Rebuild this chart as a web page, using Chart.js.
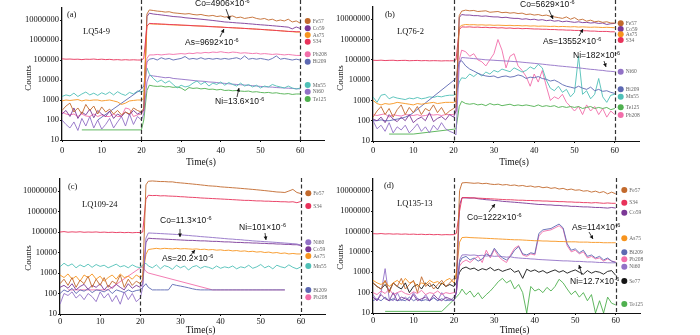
<!DOCTYPE html>
<html lang="en">
<head>
<meta charset="UTF-8">
<title>LA-ICP-MS time-resolved signals</title>
<script src="https://cdn.jsdelivr.net/npm/chart.js"></script>
<style>
    body { margin: 0; background: #fff; overflow: hidden; }
    #wrap { position: relative; width: 700px; height: 335px; }
    #wrap canvas { position: absolute; left: 0; top: 0; }
</style>
</head>
<body>
<div id="wrap">
    <canvas id="chartA" width="700" height="335"></canvas>
    <canvas id="chartB" width="700" height="335"></canvas>
    <canvas id="chartC" width="700" height="335"></canvas>
    <canvas id="chartD" width="700" height="335"></canvas>
</div>
<script>
// time axis (s): 1 s steps, two extra points on the ablation onset
const times = [0,1,2,3,4,5,6,7,8,9,10,11,12,13,14,15,16,17,18,19,20,20.6,21.4,
    22,23,24,25,26,27,28,29,30,31,32,33,34,35,36,37,38,39,40,41,42,43,44,45,46,47,48,49,50,51,52,53,54,55,56,57,58,59,60];
const yTicks = [10, 100, 1000, 10000, 100000, 1000000, 10000000];
const xTicks = [0, 10, 20, 30, 40, 50, 60];

// ---- (a) LQ54-9 ----
const aFe57 = [300,500,700,250,400,200,600,300,500,200,450,250,350,200,300,180,250,200,400,300,250,
    400,2.0e7,
    3.2e7,3.0e7,2.8e7,2.7e7,2.5e7,2.6e7,2.3e7,2.2e7,2.1e7,2.0e7,
    2.1e7,1.9e7,1.8e7,1.9e7,1.7e7,1.6e7,1.7e7,1.5e7,1.6e7,1.4e7,
    1.5e7,1.6e7,1.3e7,1.4e7,1.2e7,1.3e7,1.4e7,1.2e7,1.1e7,1.2e7,
    1.0e7,1.1e7,9e6,1.0e7,9e6,1.1e7,8e6,9e6,7e6];
const aCo59 = [200,300,150,400,120,250,180,350,130,300,200,150,280,120,200,150,250,180,300,200,250,
    300,1.5e7,
    2.2e7,2.0e7,1.9e7,1.8e7,1.7e7,1.6e7,1.5e7,1.45e7,1.4e7,1.3e7,
    1.25e7,1.2e7,1.15e7,1.1e7,1.05e7,1.0e7,9.5e6,9e6,8.5e6,8e6,
    7.8e6,7.5e6,7.2e6,7e6,6.8e6,6.5e6,6.3e6,6e6,5.8e6,5.6e6,
    5.4e6,5.2e6,5e6,4.8e6,4.6e6,4.4e6,3.6e6,4.5e6,3.8e6];
const aAs75 = [900,1000,950,1000,1050,900,1000,950,1000,1000,900,950,1000,900,800,600,700,900,950,1000,1000,
    1200,5e6,
    6.5e6,6.3e6,6.2e6,6.1e6,6e6,5.8e6,5.7e6,5.6e6,5.5e6,5.4e6,
    5.3e6,5.2e6,5.1e6,5e6,4.9e6,4.8e6,4.7e6,4.6e6,4.5e6,4.3e6,
    4.2e6,4.1e6,4e6,3.9e6,3.8e6,3.7e6,3.6e6,3.5e6,3.4e6,3.3e6,
    3.2e6,3.1e6,3.0e6,2.9e6,2.8e6,2.7e6,2.6e6,2.5e6,2.5e6];
const aS34 = [1.15e5,1.1e5,1.12e5,1.08e5,1.1e5,1.05e5,1.1e5,1.08e5,1.12e5,1.06e5,1.1e5,1.05e5,1.08e5,1.02e5,1.05e5,1.0e5,1.04e5,1.0e5,1.03e5,1.0e5,1.0e5,
    1.2e5,5e6,
    6.8e6,6.6e6,6.5e6,6.3e6,6.2e6,6e6,5.9e6,5.8e6,5.6e6,5.5e6,
    5.4e6,5.2e6,5.1e6,5e6,4.9e6,4.7e6,4.6e6,4.5e6,4.4e6,4.3e6,
    4.2e6,4.1e6,4e6,3.9e6,3.8e6,3.7e6,3.6e6,3.5e6,3.4e6,3.3e6,
    3.2e6,3.1e6,3e6,2.9e6,2.8e6,2.7e6,2.7e6,2.6e6,2.6e6];
const aPb208 = [250,200,180,200,150,200,160,150,200,150,180,150,150,200,150,150,400,350,150,180,200,
    300,1.2e5,
    1.8e5,1.8e5,1.9e5,1.8e5,1.9e5,2e5,1.9e5,2e5,2.1e5,2e5,
    2.2e5,2.1e5,2.3e5,2.2e5,2.4e5,2.3e5,2.5e5,2.4e5,2.6e5,2.4e5,
    2.3e5,2.5e5,2.4e5,2.2e5,2.3e5,2.2e5,2.1e5,2.2e5,2e5,2.1e5,
    2e5,1.9e5,2e5,1.9e5,1.8e5,1.9e5,1.8e5,1.7e5,1.7e5];
const aBi209 = [null,null,null,null,null,null,null,null,null,100,null,null,null,null,null,null,null,null,null,null,3500,
    5000,8e4,
    1.1e5,1.2e5,1.0e5,1.3e5,1.1e5,1.2e5,1.0e5,1.1e5,1.2e5,1.5e5,
    1.1e5,1.2e5,1.1e5,1.3e5,1.1e5,1.2e5,1.1e5,1.2e5,1.1e5,1.2e5,
    1.1e5,1.2e5,1.3e5,1.1e5,1.6e5,1.1e5,1.2e5,1.1e5,1.2e5,1.1e5,
    1.0e5,1.2e5,1.6e5,1.1e5,1.2e5,1.1e5,1.0e5,1.1e5,1.0e5];
const aMn55 = [1500,1800,1600,2200,1500,2000,2500,1800,2200,1700,2300,1900,2500,1800,2600,2000,1700,2400,2000,2800,2500,
    3000,4e4,
    2e4,1.2e4,8000,1e4,7000,9000,6000,4000,5500,4500,
    5000,7000,9000,6000,8000,5000,7000,6000,8000,5500,
    7500,6000,5000,7000,5000,6000,4500,5500,4000,5000,
    4500,6000,5000,4500,4000,5000,4000,3500,4000];
const aNi60 = [100,60,40,80,30,120,50,150,40,100,35,60,120,40,80,150,50,200,60,150,100,
    200,8000,
    1.7e4,1.6e4,1.5e4,1.4e4,1.3e4,1.35e4,1.2e4,1.15e4,1.1e4,1.05e4,
    1.0e4,9500,9000,8800,8500,8000,7800,7500,7000,6800,
    6500,6200,6000,5800,5600,5400,5200,5000,4800,4600,
    4500,4400,4200,4100,4000,3900,3800,3700,3600];
const aTe125 = [null,null,null,null,null,32,null,null,null,null,null,null,null,null,null,null,null,null,null,null,32,
    100,3000,
    5500,5000,4800,5000,4500,4700,4300,4500,4000,3000,
    4200,3800,4000,3600,3800,3400,3500,3200,3400,3000,
    3100,2900,3000,2800,2700,2800,2500,2600,2400,2300,
    2400,2200,2300,2100,2000,2100,1900,2000,2000];

// ---- (b) LQ76-2 ----
const bFe57 = [150,300,500,200,400,150,350,600,200,450,250,500,200,400,300,600,250,450,200,300,400,
    500,1.5e7,
    2.5e7,2.8e7,2.6e7,2.7e7,2.4e7,2.5e7,2.6e7,2.2e7,2.3e7,2.4e7,
    2.1e7,2.2e7,2.0e7,2.1e7,1.9e7,2.0e7,1.7e7,1.8e7,1.6e7,1.7e7,
    1.5e7,1.6e7,1.4e7,1.3e7,1.2e7,1.1e7,1.3e7,1.0e7,1.2e7,9e6,
    1.0e7,8e6,9e6,7.5e6,8e6,7e6,7.5e6,6.5e6,6.5e6];
const bCo59 = [120,100,150,80,200,120,90,150,100,200,80,120,150,100,250,90,130,160,110,200,150,
    300,1.2e7,
    1.7e7,1.6e7,1.6e7,1.5e7,1.5e7,1.4e7,1.45e7,1.35e7,1.3e7,1.3e7,
    1.2e7,1.25e7,1.15e7,1.1e7,1.1e7,1.0e7,1.05e7,9.5e6,1.0e7,9e6,
    9.5e6,8.5e6,9e6,8e6,8.5e6,7.5e6,8e6,7.5e6,7e6,7.5e6,
    6.8e6,7e6,6.5e6,6.8e6,6.2e6,6.5e6,5.5e6,6e6,6.2e6];
const bAs75 = [1000,700,600,700,650,700,800,750,700,650,600,700,650,700,750,800,700,750,800,800,800,
    900,4e6,
    5e6,5.5e6,5.3e6,5.4e6,5.2e6,5.3e6,5.1e6,5.2e6,5e6,5.1e6,
    5e6,4.9e6,5e6,4.8e6,4.9e6,4.7e6,4.8e6,4.6e6,4.7e6,4.5e6,
    4.6e6,4.5e6,4.4e6,4.5e6,4.3e6,4.4e6,4.3e6,4.2e6,4.3e6,4.1e6,
    4.2e6,4.1e6,4e6,4.1e6,4e6,3.9e6,4e6,3.9e6,3.8e6];
const bS34 = [9.5e4,9.3e4,9.6e4,9.2e4,9.4e4,9.5e4,9.1e4,9.3e4,9.4e4,9.0e4,9.2e4,9.3e4,9.0e4,9.2e4,8.9e4,9.1e4,9.0e4,8.8e4,9.0e4,8.9e4,9.0e4,
    1e5,3e6,
    4.2e6,4.1e6,4.2e6,4.0e6,4.1e6,3.9e6,4.0e6,3.8e6,3.9e6,3.7e6,
    3.8e6,3.6e6,3.7e6,3.5e6,3.6e6,3.4e6,3.5e6,3.4e6,3.3e6,3.3e6,
    3.2e6,3.2e6,3.1e6,3.1e6,3.0e6,3.0e6,2.9e6,2.9e6,2.8e6,2.8e6,
    2.7e6,2.7e6,2.6e6,2.6e6,2.5e6,2.5e6,2.5e6,2.4e6,2.4e6];
const bNi60 = [100,40,60,30,80,25,50,35,60,25,40,70,30,50,25,60,35,80,40,30,25,
    20,6e4,
    1.3e5,1.25e5,1.2e5,1.15e5,1.1e5,1.05e5,1.0e5,9.8e4,9.5e4,9.2e4,
    9e4,8.7e4,8.5e4,8.2e4,8e4,7.6e4,7.3e4,7e4,6.7e4,6.4e4,
    6.1e4,5.8e4,5.5e4,5.3e4,5e4,4.8e4,4.6e4,4.4e4,4.2e4,4e4,
    3.8e4,3.6e4,3.4e4,3.3e4,3.1e4,3e4,2.8e4,2.7e4,2.6e4];
const bBi209 = [100,100,110,100,100,110,120,130,150,180,250,null,null,null,null,null,null,null,null,null,null,
    1.2e4,8e4,
    9e4,5e4,3.5e4,2.8e4,2.2e4,1.8e4,1.6e4,1.5e4,1.6e4,1.3e4,
    1.5e4,1.6e4,1.4e4,1.5e4,1.8e4,1.6e4,1.2e4,1.4e4,1.3e4,1.5e4,
    1.2e4,1.1e4,9000,1e4,8000,6000,5000,4500,4000,5000,
    4000,3500,4500,3000,3500,2800,3000,2500,2200];
const bMn55 = [1500,800,1800,2000,1200,1500,1300,1200,1100,1300,1200,1400,1200,1300,1500,1400,1600,1500,1700,1800,1800,
    2000,8000,
    1.3e4,1.2e4,2e4,1.5e4,2.2e4,1.6e4,2.5e4,2e4,3e4,2.5e4,
    3.5e4,3e4,2.6e4,4e4,3.2e4,2.5e4,3e4,4.5e4,3.5e4,6e4,
    4e4,1e4,4000,3000,5000,2500,3500,1500,2500,1.5e5,
    2000,3000,1200,2000,1.2e4,1500,800,1800,2000];
const bTe125 = [null,null,null,null,22,null,null,null,null,null,22,null,null,null,null,null,null,null,null,null,38,
    40,500,
    900,700,650,700,600,650,550,700,600,650,
    550,600,650,550,600,550,600,550,500,600,
    500,550,500,550,450,500,450,500,450,500,
    400,450,500,400,450,400,450,350,400];
const bPb208 = [200,180,200,220,150,200,180,170,200,190,180,200,170,180,200,190,200,180,200,200,200,
    300,1e5,
    3e5,2.5e5,1.5e5,2e5,1e5,8e4,5e4,1e5,2e5,1e6,
    3e5,4e4,1.5e5,2e5,5e4,3e4,1.5e4,5000,2e4,8000,
    3e4,5000,1000,1500,1200,2000,800,500,300,500,
    200,600,300,500,200,400,150,300,200];

// ---- (c) LQ109-24 ----
const cFe57 = [300,500,250,600,200,450,300,700,200,500,250,600,200,400,300,800,200,500,250,400,300,
    500,2e7,
    3e7,3.1e7,3e7,2.9e7,2.9e7,2.8e7,2.8e7,2.6e7,2.5e7,2.4e7,
    2.3e7,2.2e7,2.1e7,2e7,1.9e7,1.8e7,1.75e7,1.7e7,1.6e7,1.55e7,
    1.5e7,1.45e7,1.4e7,1.35e7,1.3e7,1.25e7,1.2e7,1.15e7,1.1e7,1.05e7,
    1.0e7,9.5e6,9e6,8.8e6,8.5e6,1.0e7,1.2e7,8.5e6,7.5e6];
const cS34 = [1.0e5,1.05e5,9.8e4,1.02e5,9.9e4,1.03e5,9.7e4,1.0e5,9.8e4,1.01e5,9.6e4,9.9e4,9.5e4,9.8e4,9.4e4,9.7e4,9.3e4,9.6e4,9.2e4,9.5e4,9.4e4,
    1e5,4e6,
    6.2e6,6e6,6.1e6,5.8e6,5.9e6,5.7e6,5.6e6,5.5e6,5.3e6,5.2e6,
    5.0e6,4.9e6,4.8e6,4.6e6,4.5e6,4.4e6,4.3e6,4.2e6,4.1e6,4.0e6,
    3.9e6,3.8e6,3.7e6,3.6e6,3.5e6,3.5e6,3.4e6,3.3e6,3.3e6,3.2e6,
    3.2e6,3.1e6,3.1e6,3.0e6,3.0e6,2.9e6,3.0e6,2.7e6,3.1e6];
const cNi60 = [30,100,80,120,60,90,50,100,70,40,120,60,100,40,80,30,120,50,100,40,60,
    200,5e4,
    9e4,8.8e4,8.6e4,8.4e4,8.2e4,8e4,7.8e4,7.6e4,7.3e4,7e4,
    6.8e4,6.5e4,6.3e4,6e4,5.8e4,5.6e4,5.4e4,5.2e4,5e4,4.8e4,
    4.6e4,4.5e4,4.3e4,4.2e4,4e4,3.9e4,3.7e4,3.6e4,3.5e4,3.4e4,
    3.3e4,3.2e4,3.1e4,3e4,2.9e4,2.8e4,2.7e4,2.6e4,2.3e4];
const cCo59 = [200,250,180,300,150,220,280,160,250,200,300,150,250,180,280,200,150,300,180,250,200,
    300,3e4,
    5e4,4.8e4,4.7e4,4.6e4,4.5e4,4.4e4,4.3e4,4.2e4,4.1e4,4e4,
    3.9e4,3.9e4,3.8e4,3.7e4,3.7e4,3.6e4,3.5e4,3.5e4,3.4e4,3.3e4,
    3.3e4,3.2e4,3.1e4,3.1e4,3e4,3e4,2.9e4,2.9e4,2.8e4,2.8e4,
    2.7e4,2.7e4,2.6e4,2.6e4,2.5e4,2.5e4,2.4e4,2.4e4,2.2e4];
const cAs75 = [800,600,900,500,700,400,800,600,900,500,700,400,600,800,500,900,600,700,500,800,600,
    800,8000,
    1.4e4,1.5e4,1.6e4,1.5e4,1.6e4,1.55e4,1.5e4,1.6e4,1.5e4,1.55e4,
    1.5e4,1.45e4,1.5e4,1.4e4,1.45e4,1.35e4,1.4e4,1.3e4,1.35e4,1.25e4,
    1.3e4,1.2e4,1.25e4,1.15e4,1.2e4,1.1e4,1.15e4,1.05e4,1.1e4,1e4,
    1.05e4,9500,1e4,9000,9500,8500,9000,8500,8500];
const cMn55 = [2000,3000,2200,2800,1800,2500,2000,2700,1900,2600,2100,2400,1800,2200,2700,2000,2300,1800,2500,2000,1800,
    2500,3000,
    2200,1800,2500,1600,2300,2000,1500,2400,1800,2200,
    1400,2000,2300,1700,2100,1900,1600,2200,1700,2000,
    1800,2200,1600,2000,1800,2400,1700,2000,2600,1800,
    2200,1600,2400,2000,1800,2500,1900,1600,2000];
const cBi209 = [100,150,120,180,100,150,130,170,110,150,140,120,160,100,150,130,110,150,120,140,150,
    200,300,
    200,150,150,150,150,150,280,250,230,210,
    190,170,155,150,150,150,150,150,150,150,
    150,150,150,150,150,150,150,150,150,150,
    150,150,150,150,150,null,null,null,null];
const cPb208 = [null,null,150,null,null,null,null,null,null,null,null,null,150,null,null,null,null,null,null,null,1800,
    2000,1200,
    1000,null,null,null,null,null,null,null,null,null,
    null,null,null,null,null,null,150,null,null,null,
    null,null,null,null,null,null,null,null,null,null,
    null,null,null,null,150,null,null,null,null];

// ---- (d) LQ135-13 ----
const dFe57 = [300,200,150,400,100,300,200,500,150,250,400,100,600,200,300,150,250,400,200,300,500,
    500,1e7,
    2.4e7,2.5e7,2.4e7,2.3e7,2.4e7,2.2e7,2.3e7,2.1e7,2.0e7,2.1e7,
    1.9e7,2.0e7,1.8e7,1.9e7,1.7e7,1.8e7,1.6e7,1.7e7,1.5e7,1.6e7,
    1.4e7,1.5e7,1.3e7,1.4e7,1.2e7,1.3e7,1.1e7,1.2e7,1.05e7,1.1e7,
    9.5e6,1.0e7,8.5e6,9.5e6,8e6,9e6,7e6,8.5e6,7e6];
const dS34 = [7.8e4,7.6e4,7.9e4,7.5e4,7.7e4,7.4e4,7.6e4,7.3e4,7.5e4,7.2e4,7.4e4,7.1e4,7.3e4,7.0e4,7.2e4,6.9e4,7.1e4,6.8e4,7.0e4,6.9e4,7.0e4,
    8e4,1e6,
    4.5e6,4.6e6,4.5e6,4.4e6,4.3e6,4.2e6,4.1e6,4.0e6,3.9e6,3.8e6,
    3.7e6,3.6e6,3.6e6,3.5e6,3.4e6,3.4e6,3.3e6,3.3e6,3.2e6,3.2e6,
    3.1e6,3.1e6,3.0e6,3.0e6,2.9e6,2.9e6,2.8e6,2.8e6,2.7e6,2.7e6,
    2.6e6,2.6e6,2.5e6,2.6e6,2.5e6,2.4e6,2.5e6,2.4e6,2.4e6];
const dCo59 = [60,40,80,50,40,100,40,60,50,40,80,40,50,60,40,80,50,40,60,50,40,
    100,2e6,
    4.5e6,4.4e6,4.3e6,4.4e6,4.0e6,3.8e6,3.6e6,3.5e6,3.3e6,3.2e6,
    3.0e6,2.9e6,2.8e6,2.7e6,2.6e6,2.5e6,2.4e6,2.3e6,2.2e6,2.1e6,
    2.1e6,2.0e6,2.0e6,1.9e6,1.9e6,1.8e6,1.8e6,1.7e6,1.7e6,1.65e6,
    1.6e6,1.6e6,1.55e6,1.5e6,1.5e6,1.45e6,1.4e6,1.5e6,1.4e6];
const dAs75 = [400,300,250,350,200,300,400,250,500,300,350,200,300,250,400,300,350,250,400,500,300,
    1000,3e4,
    5e4,5.2e4,5e4,4.9e4,4.8e4,4.7e4,4.6e4,4.5e4,4.4e4,4.3e4,
    4.2e4,4.1e4,4e4,3.9e4,3.9e4,3.8e4,3.7e4,3.6e4,3.5e4,3.5e4,
    3.4e4,3.4e4,3.3e4,3.3e4,3.2e4,3.2e4,3.1e4,3.1e4,3.1e4,3e4,
    3e4,3e4,2.9e4,2.9e4,2.9e4,2.8e4,2.8e4,2.8e4,2.8e4];
const dBi209 = [40,50,40,60,40,50,40,45,40,60,40,50,40,45,40,55,40,50,40,45,40,
    100,3000,
    5000,6000,4000,5000,3500,4500,8000,6000,1.5e4,8000,
    5000,4000,6000,1.2e4,1.8e4,8000,7000,9000,8000,8e4,
    1.2e5,1.3e5,1.4e5,1.8e5,2.3e5,1.5e5,2.5e4,1.2e4,1.4e4,9000,
    1.2e4,6000,7000,5000,6000,4000,5000,3500,3000];
const dPb208 = [100,80,120,90,150,80,100,120,90,80,110,90,130,80,100,90,120,80,100,90,100,
    100,2000,
    3000,4000,3000,4500,6000,3000,1.2e4,5000,1.3e4,6000,
    4000,3000,7000,1.5e4,2e4,7000,6000,8000,7000,6e4,
    1e5,1.1e5,1.2e5,1.5e5,1.9e5,1.3e5,2e4,1e4,1.2e4,8000,
    1e4,5000,6000,4500,5000,3500,4500,3500,3200];
const dNi60 = [80,40,100,1500,50,40,100,40,60,40,100,50,40,80,40,60,40,100,50,40,60,
    100,4000,
    7000,7200,6800,7000,6500,6800,6200,6500,6000,6200,
    5800,5500,5700,5200,5000,4800,4700,4500,4400,4200,
    4100,4000,3900,3800,3700,3600,3600,3500,3400,3400,
    3300,3200,3200,3100,3000,3000,2900,2900,2900];
const dSe77 = [300,200,150,250,120,300,200,150,300,100,200,250,150,300,200,250,150,300,200,250,200,
    300,1000,
    1500,1800,1400,1600,1200,1500,1300,1700,1200,1400,
    1100,1300,1500,1000,1200,500,1400,1100,1300,1000,
    1200,900,1100,1300,1000,1200,900,1100,1300,1000,
    800,1200,900,1100,1000,800,1100,1200,700];
const dTe125 = [null,null,null,12,null,null,null,null,null,null,null,null,null,null,null,null,null,12,null,null,45,
    60,90,
    150,80,120,60,100,50,80,120,200,350,
    500,300,400,150,250,100,10,200,120,150,
    100,180,120,200,450,300,150,80,120,60,
    100,40,80,10,40,10,60,30,25];

const colors = {
    Fe57: '#c2692c', Co59: '#7b3896', As75: '#f7941e', S34: '#e8325a', Pb208: '#f26eaa',
    Bi209: '#5c68b2', Mn55: '#4fc0b7', Ni60: '#9271c6', Te125: '#4fb04f', Se77: '#151515'
};

const serif = '"Liberation Serif", "Times New Roman", serif';
const sans = '"Liberation Sans", Arial, sans-serif';

const panels = [
    {
        id: 'chartA', area: { left: 62, right: 324, top: 8, bottom: 140 }, tickPad: 3.5, dashTop: 0,
        letter: '(a)', letterPos: [67, 15], sample: 'LQ54-9', samplePos: [83, 32],
        countsPos: [28.5, 78], timeY: 162,
        legendX: 307.7,
        legend: { Fe57: 21, Co59: 28.3, As75: 35, S34: 41.7, Pb208: 54.3, Bi209: 61.7, Mn55: 85, Ni60: 91.7, Te125: 99 },
        notes: [
            { text: 'Co=4906×10', sup: '-6', x: 195, y: 4, arrow: [226, 9, 230, 20] },
            { text: 'As=9692×10', sup: '-6', x: 185, y: 43, arrow: [220, 37, 224, 29] },
            { text: 'Ni=13.6×10', sup: '-6', x: 215, y: 102, arrow: [237, 97, 239, 88] }
        ],
        series: [['S34', aS34], ['As75', aAs75], ['Fe57', aFe57], ['Co59', aCo59], ['Pb208', aPb208],
                 ['Bi209', aBi209], ['Mn55', aMn55], ['Ni60', aNi60], ['Te125', aTe125]]
    },
    {
        id: 'chartB', area: { left: 373, right: 639, top: 7, bottom: 141 }, tickPad: 3, dashTop: 0,
        letter: '(b)', letterPos: [385, 15], sample: 'LQ76-2', samplePos: [397, 32],
        countsPos: [341, 78], timeY: 162,
        legendX: 620.7,
        legend: { Fe57: 23.3, Co59: 29, As75: 34.3, S34: 40, Ni60: 71.7, Bi209: 89.3, Mn55: 96.7, Te125: 107.3, Pb208: 115 },
        notes: [
            { text: 'Co=5629×10', sup: '-6', x: 520, y: 5, arrow: [549, 10, 553, 19] },
            { text: 'As=13552×10', sup: '-6', x: 543, y: 42, arrow: [579, 36, 583, 29] },
            { text: 'Ni=182×10', sup: '-6', x: 573, y: 56, arrow: [604, 61, 606, 67] }
        ],
        series: [['Fe57', bFe57], ['Co59', bCo59], ['As75', bAs75], ['S34', bS34], ['Ni60', bNi60],
                 ['Bi209', bBi209], ['Mn55', bMn55], ['Te125', bTe125], ['Pb208', bPb208]]
    },
    {
        id: 'chartC', area: { left: 60, right: 325, top: 178.7, bottom: 314 }, tickPad: 1, dashTop: 178,
        letter: '(c)', letterPos: [68, 187], sample: 'LQ109-24', samplePos: [82, 205],
        countsPos: [29, 258], timeY: 330,
        legendX: 308.3,
        legend: { Fe57: 193.3, S34: 206, Ni60: 242.3, Co59: 249.3, As75: 256, Mn55: 266, Bi209: 290, Pb208: 297.3 },
        notes: [
            { text: 'Co=11.3×10', sup: '-6', x: 160, y: 221, arrow: [180, 229, 180, 237] },
            { text: 'Ni=101×10', sup: '-6', x: 239, y: 228, arrow: [265, 233, 266, 240] },
            { text: 'As=20.2×10', sup: '-6', x: 162, y: 259, arrow: [190, 256, 195, 250] }
        ],
        series: [['Fe57', cFe57], ['S34', cS34], ['Ni60', cNi60], ['Co59', cCo59], ['As75', cAs75],
                 ['Mn55', cMn55], ['Bi209', cBi209], ['Pb208', cPb208]]
    },
    {
        id: 'chartD', area: { left: 373, right: 640, top: 178.4, bottom: 313 }, tickPad: 1, dashTop: 178,
        letter: '(d)', letterPos: [384, 186], sample: 'LQ135-13', samplePos: [397, 204],
        countsPos: [341, 257], timeY: 330,
        legendX: 624.3,
        legend: { Fe57: 190, S34: 202.7, Co59: 212.7, As75: 238.3, Bi209: 252.3, Pb208: 259.3, Ni60: 266.7, Se77: 281, Te125: 304 },
        notes: [
            { text: 'Co=1222×10', sup: '-6', x: 467, y: 218, arrow: [489, 212, 495, 204] },
            { text: 'As=114×10', sup: '-6', x: 572, y: 228, arrow: [589, 232, 593, 239] },
            { text: 'Ni=12.7×10', sup: '-6', x: 570, y: 282, arrow: [582, 275, 579, 265] }
        ],
        series: [['Fe57', dFe57], ['S34', dS34], ['Co59', dCo59], ['As75', dAs75], ['Bi209', dBi209],
                 ['Pb208', dPb208], ['Ni60', dNi60], ['Se77', dSe77], ['Te125', dTe125]]
    }
];

function drawArrow(ctx, x1, y1, x2, y2) {
    const ang = Math.atan2(y2 - y1, x2 - x1);
    ctx.beginPath();
    ctx.moveTo(x1, y1);
    ctx.lineTo(x2, y2);
    ctx.stroke();
    ctx.beginPath();
    ctx.moveTo(x2, y2);
    ctx.lineTo(x2 - 4 * Math.cos(ang - 0.5), y2 - 4 * Math.sin(ang - 0.5));
    ctx.lineTo(x2 - 4 * Math.cos(ang + 0.5), y2 - 4 * Math.sin(ang + 0.5));
    ctx.closePath();
    ctx.fill();
}

// labels, legend, dashed markers and annotations of one panel
function makeDecor(p) {
    return {
        id: 'decor_' + p.id,
        afterDraw(chart) {
            const ctx = chart.ctx;
            const a = chart.chartArea;
            const x = chart.scales.x;
            ctx.save();

            ctx.strokeStyle = '#333';
            ctx.lineWidth = 1.2;
            ctx.setLineDash([4, 2.5]);
            [20, 60].forEach(t => {
                const px = Math.round(x.getPixelForValue(t)) + 0.5;
                ctx.beginPath();
                ctx.moveTo(px, p.dashTop);
                ctx.lineTo(px, a.bottom);
                ctx.stroke();
            });
            ctx.setLineDash([]);

            ctx.fillStyle = '#111';
            ctx.textAlign = 'center';
            ctx.textBaseline = 'middle';
            ctx.font = '9.5px ' + serif;
            ctx.fillText('Time(s)', x.getPixelForValue(35), p.timeY);
            ctx.save();
            ctx.translate(p.countsPos[0], p.countsPos[1]);
            ctx.rotate(-Math.PI / 2);
            ctx.font = '9px ' + serif;
            ctx.fillText('Counts', 0, 0);
            ctx.restore();

            ctx.textAlign = 'left';
            ctx.font = '8.5px ' + serif;
            ctx.fillText(p.letter, p.letterPos[0], p.letterPos[1]);
            ctx.fillText(p.sample, p.samplePos[0], p.samplePos[1]);

            // legend
            chart.data.datasets.forEach(d => {
                const ly = p.legend[d.label];
                ctx.fillStyle = d.borderColor;
                ctx.beginPath();
                ctx.arc(p.legendX, ly, 3, 0, Math.PI * 2);
                ctx.fill();
                ctx.fillStyle = '#666';
                ctx.font = '5.5px ' + serif;
                ctx.fillText(d.label, p.legendX + 5, ly + 0.3);
            });

            // concentration notes
            ctx.fillStyle = '#111';
            ctx.strokeStyle = '#111';
            ctx.lineWidth = 0.8;
            p.notes.forEach(n => {
                ctx.font = '8.5px ' + sans;
                ctx.fillText(n.text, n.x, n.y);
                const w = ctx.measureText(n.text).width;
                ctx.font = '5.5px ' + sans;
                ctx.fillText(n.sup, n.x + w + 0.5, n.y - 3);
                drawArrow(ctx, n.arrow[0], n.arrow[1], n.arrow[2], n.arrow[3]);
            });
            ctx.restore();
        }
    };
}

function buildChart(p) {
    const yAxisW = 40, xAxisH = 18;
    const datasets = p.series.map(([name, values]) => ({
        label: name,
        data: values,
        borderColor: colors[name],
        borderWidth: 0.9,
        pointRadius: 0,
        tension: 0,
        spanGaps: true,
        fill: false
    }));
    return new Chart(document.getElementById(p.id), {
        type: 'line',
        data: { labels: times, datasets: datasets },
        options: {
            responsive: false,
            animation: false,
            events: [],
            layout: {
                padding: {
                    left: p.area.left - yAxisW,
                    right: 700 - p.area.right,
                    top: p.area.top,
                    bottom: 335 - p.area.bottom - xAxisH
                }
            },
            plugins: { legend: { display: false }, tooltip: { enabled: false } },
            scales: {
                x: {
                    type: 'linear', min: 0, max: 66,
                    afterFit: s => { s.height = xAxisH; },
                    afterBuildTicks: s => { s.ticks = xTicks.map(v => ({ value: v })); },
                    ticks: { color: '#111', padding: p.tickPad, maxRotation: 0,
                             font: { family: serif, size: 8.5 } },
                    grid: { drawOnChartArea: false, tickLength: 2, color: '#111' },
                    border: { color: '#111', width: 1 }
                },
                y: {
                    type: 'logarithmic', min: 10, max: 4e7,
                    afterFit: s => { s.width = yAxisW; },
                    afterBuildTicks: s => { s.ticks = yTicks.map(v => ({ value: v })); },
                    ticks: { color: '#111', padding: 1, callback: v => String(v),
                             font: { family: serif, size: 8.5 } },
                    grid: { drawOnChartArea: false, tickLength: 2, color: '#111' },
                    border: { color: '#111', width: 1.3 }
                }
            }
        },
        plugins: [makeDecor(p)]
    });
}

panels.forEach(buildChart);
</script>
</body>
</html>
